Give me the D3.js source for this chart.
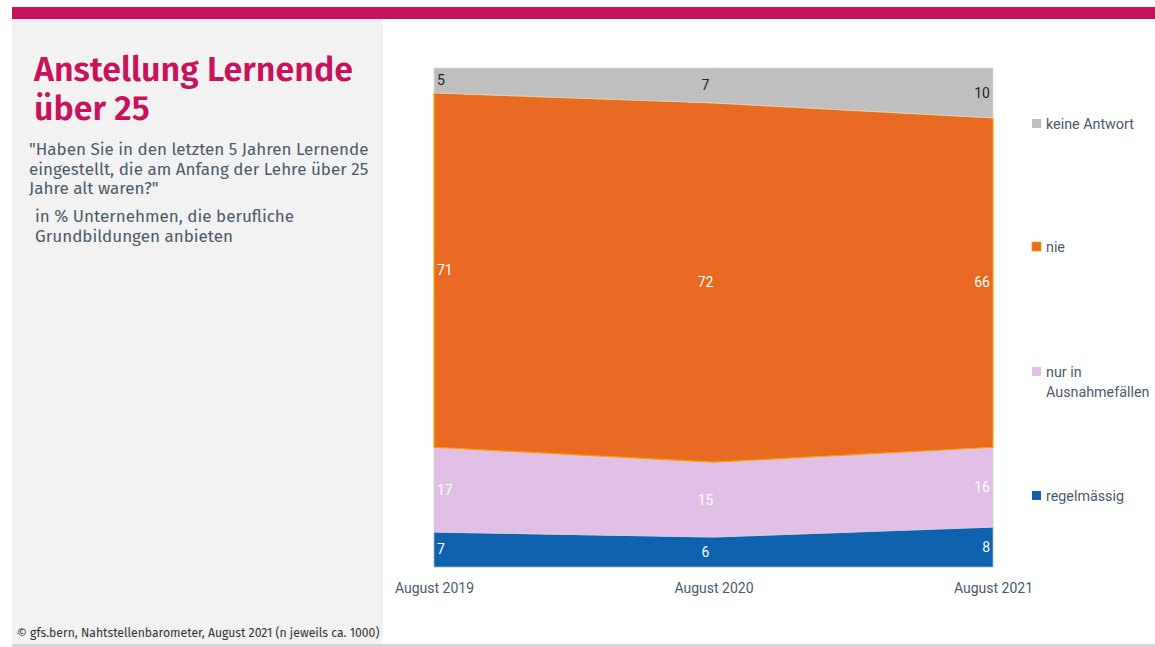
<!DOCTYPE html>
<html><head><meta charset="utf-8">
<script src="https://cdn.jsdelivr.net/npm/d3@7"></script>
<style>
html,body{margin:0;padding:0;background:#fff;}
svg{display:block;}
</style></head>
<body>
<svg id="c" width="1155" height="647"></svg>
<script>
const periods = ["August 2019", "August 2020", "August 2021"];
const seriesNames = ["regelmässig", "nur in Ausnahmefällen", "nie", "keine Antwort"];
const regelmaessig = [7, 6, 8];
const ausnahme = [17, 15, 16];
const nie = [71, 72, 66];
const keineAntwort = [5, 7, 10];
const colors = ["#0f62ae", "#e1bfe6", "#e86a23", "#bfbfbf"];
const legendLabels = [["keine Antwort"], ["nie"], ["nur in", "Ausnahmefällen"], ["regelmässig"]];

const FONT = "'Liberation Sans Narrow', 'Roboto', 'Noto Sans', sans-serif";
const TFONT = "'Fira Sans', 'Noto Sans', 'Open Sans', sans-serif";
const svg = d3.select("#c");

// frame
svg.append("rect").attr("x",12).attr("y",7).attr("width",1143).attr("height",12).attr("fill","#c8125c");
svg.append("rect").attr("x",12).attr("y",19).attr("width",371).attr("height",625).attr("fill","#f2f2f2");
svg.append("rect").attr("x",12).attr("y",644).attr("width",1143).attr("height",3).attr("fill","#d4d6d4");

// title
const title = svg.append("text").attr("font-family",TFONT).attr("font-weight",600)
  .attr("font-size",34).attr("fill","#c8125c");
title.append("tspan").attr("x",34).attr("y",81).text("Anstellung Lernende");
title.append("tspan").attr("x",34).attr("y",120).text("über 25");

const sub = svg.append("text").attr("font-family",TFONT).attr("font-size",17).attr("fill","#4b5a68");
["\"Haben Sie in den letzten 5 Jahren Lernende","eingestellt, die am Anfang der Lehre über 25","Jahre alt waren?\""]
  .forEach((t,i)=>sub.append("tspan").attr("x",29).attr("y",155+i*19.5).text(t));
const sub2 = svg.append("text").attr("font-family",TFONT).attr("font-size",17).attr("fill","#4b5a68");
["in % Unternehmen, die berufliche","Grundbildungen anbieten"]
  .forEach((t,i)=>sub2.append("tspan").attr("x",35).attr("y",222+i*20).text(t));

svg.append("text").attr("x",17).attr("y",637).attr("font-family",TFONT).attr("font-size",12.2)
  .attr("fill","#333").text("© gfs.bern, Nahtstellenbarometer, August 2021 (n jeweils ca. 1000)");

// chart
const x = d3.scalePoint().domain(periods).range([434, 993]);
const y = d3.scaleLinear().domain([0, 100]).range([567, 68]);

const rows = periods.map((p,i)=>({period:p, "regelmässig":regelmaessig[i], "nur in Ausnahmefällen":ausnahme[i], "nie":nie[i], "keine Antwort":keineAntwort[i]}));
const stack = d3.stack().keys(seriesNames)(rows);

const area = d3.area().x(d=>x(d.data.period)).y0(d=>y(d[0])).y1(d=>y(d[1]));
const strokeCols = ["#9fb7cf", "#d8d0d8", "#f5a300", "#d9d9d9"];
svg.append("g").selectAll("path").data(stack).join("path")
  .attr("d", area).attr("fill",(d,i)=>colors[i])
  .attr("stroke",(d,i)=>strokeCols[i]).attr("stroke-width",(d,i)=>i===2?1.2:0.8);

// value labels
const lab = svg.append("g").attr("font-family",FONT).attr("font-size",14);
stack.forEach((s,si)=>{
  s.forEach((d,i)=>{
    const anchor = i===0?"start":(i===periods.length-1?"end":"middle");
    const dx = i===0?3:(i===periods.length-1?-3:-8);
    lab.append("text").attr("x",x(d.data.period)+dx).attr("y",y((d[0]+d[1])/2))
      .attr("dy","0.35em").attr("text-anchor",anchor)
      .attr("fill", si===3?"#222":"#ffffff").text(d[1]-d[0]);
  });
});

// x axis labels
const xa = svg.append("g").attr("transform","translate(0,588)").call(d3.axisBottom(x).tickSize(0).tickPadding(0));
xa.select(".domain").remove();
xa.selectAll("text").attr("font-family",FONT).attr("font-size",14).attr("fill","#4b5a68").attr("dy","0.35em");

// legend
const legY = [124, 247, 372, 496];
const leg = svg.append("g");
legendLabels.forEach((lines,i)=>{
  const ci = 3 - i;
  leg.append("rect").attr("x",1032).attr("y",legY[i]-5).attr("width",9).attr("height",9)
    .attr("fill",colors[ci]).attr("stroke", ci===2?"#f5a300":"none").attr("stroke-width",0.8);
  const t = leg.append("text").attr("font-family",FONT).attr("font-size",14.3).attr("fill","#4b5a68");
  lines.forEach((l,j)=>t.append("tspan").attr("x",1046).attr("y",legY[i]+j*20).attr("dy","0.35em").text(l));
});
</script>
</body></html>
